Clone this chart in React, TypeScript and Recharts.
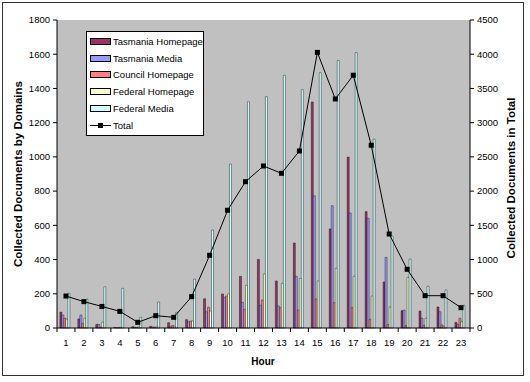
import { ComposedChart, Bar, Line, XAxis, YAxis, CartesianGrid, Legend } from 'recharts'

const HOURS = ['1', '2', '3', '4', '5', '6', '7', '8', '9', '10', '11', '12', '13', '14', '15', '16', '17', '18', '19', '20', '21', '22', '23']
const TAS_HOME = [93, 53, 21, 3, 8, 10, 31, 49, 171, 199, 302, 401, 275, 497, 1321, 579, 999, 680, 269, 101, 99, 123, 33]
const TAS_MEDIA = [76, 76, 21, 2, 4, 6, 8, 37, 95, 179, 150, 133, 129, 302, 773, 715, 672, 641, 413, 105, 58, 95, 21]
const COUNCIL_HOME = [57, 27, 5, 2, 3, 5, 15, 41, 121, 187, 109, 164, 119, 105, 170, 148, 119, 51, 20, 13, 15, 18, 57]
const FED_HOME = [52, 57, 35, 4, 5, 7, 10, 41, 99, 199, 249, 316, 261, 290, 275, 349, 302, 187, 123, 296, 57, 10, 37]
const FED_MEDIA = [203, 169, 241, 232, 63, 152, 92, 286, 573, 958, 1322, 1352, 1477, 1393, 1492, 1564, 1609, 1103, 538, 403, 244, 222, 133]
const TOTAL = [467, 385, 315, 243, 83, 180, 156, 458, 1062, 1720, 2138, 2367, 2260, 2586, 4027, 3346, 3693, 2670, 1373, 858, 472, 472, 297]

const LEFT_TICKS = [0, 200, 400, 600, 800, 1000, 1200, 1400, 1600, 1800]
const RIGHT_TICKS = [0, 500, 1000, 1500, 2000, 2500, 3000, 3500, 4000, 4500]

const SERIES = [
  { key: 'tasHome', name: 'Tasmania Homepage', color: '#993366' },
  { key: 'tasMedia', name: 'Tasmania Media', color: '#9999FF' },
  { key: 'councilHome', name: 'Council Homepage', color: '#FF8080' },
  { key: 'fedHome', name: 'Federal Homepage', color: '#FFFFCC' },
  { key: 'fedMedia', name: 'Federal Media', color: '#CCFFFF' },
]

const data = HOURS.map((hour, i) => ({
  hour,
  tasHome: TAS_HOME[i],
  tasMedia: TAS_MEDIA[i],
  councilHome: COUNCIL_HOME[i],
  fedHome: FED_HOME[i],
  fedMedia: FED_MEDIA[i],
  total: TOTAL[i],
}))

const FONT = '"Liberation Sans", Arial, sans-serif'
const W = 530
const H = 382
const TOP = 20
const LEFT_W = 57
const RIGHT_W = 60
const X_H = 54
const AXIS_Y = H - X_H
const BAND = (W - LEFT_W - RIGHT_W) / HOURS.length

// excel puts the category ticks between the groups, not under them
function HourTick(props: any) {
  const { x, payload, index } = props
  const half = BAND / 2
  return (
    <g>
      <line x1={x - half} x2={x - half} y1={AXIS_Y} y2={AXIS_Y + 4} stroke="#000" />
      {index === HOURS.length - 1 && (
        <line x1={x + half} x2={x + half} y1={AXIS_Y} y2={AXIS_Y + 4} stroke="#000" />
      )}
      <text x={x} y={AXIS_Y + 18} textAnchor="middle" fontSize={9.5} fontFamily={FONT} fill="#000">
        {payload.value}
      </text>
    </g>
  )
}

function SquareDot(props: any) {
  const { cx, cy, index } = props
  return <rect key={index} x={cx - 2.5} y={cy - 2.5} width={5} height={5} fill="#000" />
}

function LegendBox() {
  return (
    <div
      style={{
        background: '#fff',
        border: '1px solid #000',
        padding: '1px 0',
        fontFamily: FONT,
        fontSize: 9.5,
        color: '#000',
        boxSizing: 'border-box',
        width: 118,
        textAlign: 'left',
      }}
    >
      {SERIES.map(s => (
        <div key={s.key} style={{ display: 'flex', alignItems: 'center', height: 16.8 }}>
          <span
            style={{
              display: 'inline-block',
              width: 19,
              height: 5,
              background: s.color,
              border: '1px solid #000',
              marginLeft: 3,
              marginRight: 2,
            }}
          />
          <span>{s.name}</span>
        </div>
      ))}
      <div style={{ display: 'flex', alignItems: 'center', height: 16.8 }}>
        <svg width={21} height={7} style={{ marginLeft: 3, marginRight: 2 }}>
          <line x1={0} x2={21} y1={3.5} y2={3.5} stroke="#000" />
          <rect x={8} y={1} width={5} height={5} fill="#000" />
        </svg>
        <span>Total</span>
      </div>
    </div>
  )
}

const titleStyle = {
  position: 'absolute' as const,
  fontFamily: FONT,
  fontWeight: 'bold' as const,
  color: '#000',
  whiteSpace: 'nowrap' as const,
}

export default function App() {
  return (
    <div style={{ position: 'absolute', left: 0, top: 0, width: W, height: H, background: '#fff' }}>
      <div
        style={{
          position: 'absolute',
          left: 2,
          top: 2,
          width: 520,
          height: 372,
          border: '1.5px solid #333',
        }}
      />
      <div style={{ position: 'absolute', left: 0, top: 0 }}>
        <ComposedChart
          width={W}
          height={H}
          data={data}
          margin={{ top: TOP, right: 0, bottom: 0, left: 0 }}
          barCategoryGap="16%"
          barGap={0}
        >
          <CartesianGrid horizontal={false} vertical={false} fill="#C0C0C0" />
          <XAxis
            dataKey="hour"
            height={X_H}
            tickLine={false}
            tick={<HourTick />}
            interval={0}
            axisLine={{ stroke: '#000' }}
          />
          <YAxis
            yAxisId="left"
            width={LEFT_W}
            domain={[0, 1800]}
            ticks={LEFT_TICKS}
            interval={0}
            tickSize={4}
            tickMargin={3}
            axisLine={{ stroke: '#000' }}
            tickLine={{ stroke: '#000' }}
            tick={{ fontSize: 9.5, fontFamily: FONT, fill: '#000' }}
          />
          <YAxis
            yAxisId="right"
            orientation="right"
            width={RIGHT_W}
            domain={[0, 4500]}
            ticks={RIGHT_TICKS}
            interval={0}
            tickSize={4}
            tickMargin={3}
            axisLine={{ stroke: '#000' }}
            tickLine={{ stroke: '#000' }}
            tick={{ fontSize: 9.5, fontFamily: FONT, fill: '#000' }}
          />
          {SERIES.map(s => (
            <Bar
              key={s.key}
              yAxisId="left"
              dataKey={s.key}
              name={s.name}
              fill={s.color}
              stroke="#000"
              strokeWidth={0.4}
              isAnimationActive={false}
            />
          ))}
          <Line
            yAxisId="right"
            dataKey="total"
            name="Total"
            type="linear"
            stroke="#000"
            strokeWidth={1}
            dot={<SquareDot />}
            activeDot={false}
            isAnimationActive={false}
          />
          <Legend
            layout="horizontal"
            verticalAlign="middle"
            align="center"
            content={<LegendBox />}
            wrapperStyle={{ left: 86, top: 31, width: 118, height: 100 }}
          />
        </ComposedChart>
      </div>
      <div
        style={{
          ...titleStyle,
          fontSize: 11.5,
          left: 18,
          top: 174,
          transform: 'translate(-50%, -50%) rotate(-90deg)',
        }}
      >
        Collected Documents by Domains
      </div>
      <div
        style={{
          ...titleStyle,
          fontSize: 11.5,
          left: 511,
          top: 178,
          transform: 'translate(-50%, -50%) rotate(-90deg)',
        }}
      >
        Collected Documents in Total
      </div>
      <div style={{ ...titleStyle, fontSize: 10, left: 263, top: 361, transform: 'translate(-50%, -50%)' }}>
        Hour
      </div>
    </div>
  )
}
